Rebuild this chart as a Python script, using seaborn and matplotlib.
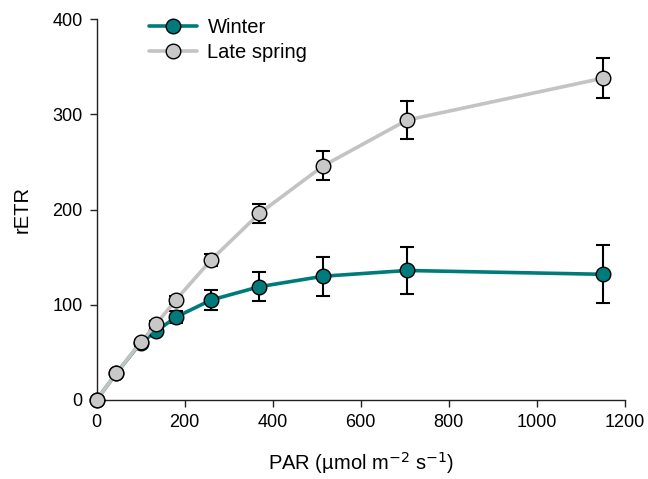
import numpy as np
import pandas as pd
import matplotlib
matplotlib.use("Agg")
import matplotlib.pyplot as plt
import seaborn as sns

par = [0, 45, 100, 135, 180, 260, 370, 515, 705, 1150]
winter = [0, 28, 60, 72, 87, 105, 119, 130, 136, 132]
winter_err = [0, 2, 3, 3, 6.5, 10.5, 15, 20.5, 25, 30.5]
spring = [0, 28, 60.5, 79.5, 105, 147, 196, 246, 294, 338]
spring_err = [0, 2, 3, 3, 4, 6, 10, 15, 20, 21]
series = ["Winter", "Late spring"]
colors = ["#007b7b", "#c3c3c3"]
fills = ["#007b7b", "#c8c8c8"]
xticks = [0, 200, 400, 600, 800, 1000, 1200]
yticks = [0, 100, 200, 300, 400]

sns.set_style("ticks")
plt.rcParams["font.family"] = ["Liberation Sans", "DejaVu Sans"]
plt.rcParams["text.color"] = "black"
plt.rcParams["axes.labelcolor"] = "black"
plt.rcParams["xtick.color"] = "black"
plt.rcParams["ytick.color"] = "black"

df = pd.DataFrame({
    "PAR": par * 2,
    "rETR": winter + spring,
    "err": winter_err + spring_err,
    "Season": [series[0]] * len(par) + [series[1]] * len(par),
})

fig = plt.figure(figsize=(6.48, 4.79), dpi=100)
ax = fig.add_axes([0.149, 0.165, 0.8155, 0.795])

for i, s in enumerate(series):
    sub = df[df["Season"] == s]
    z = 2 + 2 * i
    ax.errorbar(sub["PAR"], sub["rETR"], yerr=sub["err"], fmt="none",
                ecolor="black", elinewidth=1.5, capsize=4.7, capthick=1.5,
                zorder=z)
    sns.lineplot(data=sub, x="PAR", y="rETR", ax=ax, color=colors[i],
                 linewidth=2.6, marker="o", markersize=10.5,
                 markerfacecolor=fills[i], markeredgecolor="black",
                 markeredgewidth=1.0, label=s, zorder=z + 1, clip_on=False)

ax.set_xlim(0, 1200)
ax.set_ylim(0, 400)
ax.set_xticks(xticks)
ax.set_yticks(yticks)
ax.tick_params(axis="both", direction="out", length=5, width=1,
               labelsize=13, pad=5, color="#222222")
for sp in ["top", "right"]:
    ax.spines[sp].set_visible(False)
for sp in ["left", "bottom"]:
    ax.spines[sp].set_linewidth(1.0)
    ax.spines[sp].set_color("#222222")

ax.set_xlabel("PAR (µmol m$^{-2}$ s$^{-1}$)", fontsize=14.5, labelpad=14)
ax.set_ylabel("rETR", fontsize=14.5, labelpad=15)

leg = ax.legend(loc="upper left", bbox_to_anchor=(0.065, 1.05), frameon=False,
                fontsize=14.5, handlelength=2.4, handletextpad=0.5,
                labelspacing=0.28)

fig.savefig("out.png", dpi=100)
